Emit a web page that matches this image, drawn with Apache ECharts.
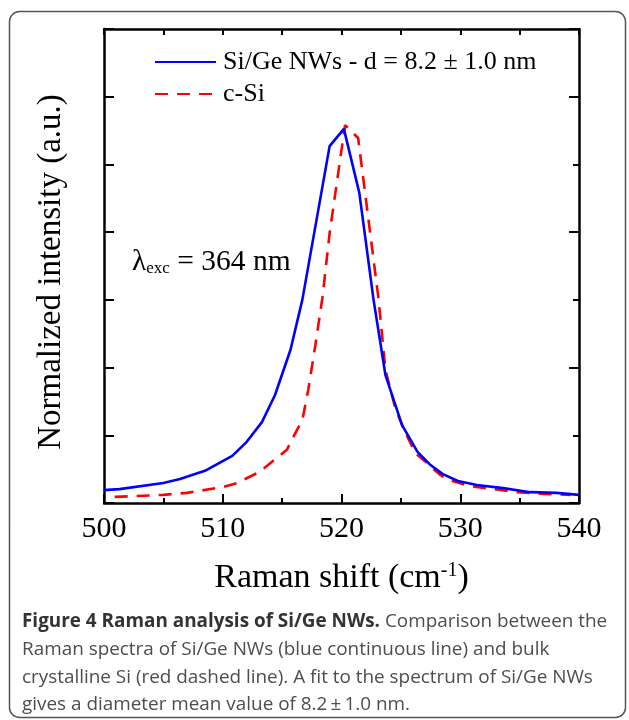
<!DOCTYPE html>
<html>
<head>
<meta charset="utf-8">
<script src="https://cdn.jsdelivr.net/npm/echarts@6/dist/echarts.min.js"></script>
<style>
  html, body { margin: 0; padding: 0; background: #fff; }
  #chart { width: 629px; height: 720px; }
</style>
</head>
<body>
<div id="chart"></div>
<script>
// Si/Ge NWs (blue, solid)
var nwShift = [500.0, 501.3, 505.0, 506.4, 508.5, 510.8, 512.0, 513.3, 514.4, 515.7, 516.7, 519.0, 520.2, 521.5, 522.7, 523.7, 524.4, 525.1, 526.4, 527.5, 528.5, 529.8, 531.4, 533.6, 535.9, 538.1, 540.0];
var nwInt   = [0.038, 0.041, 0.059, 0.071, 0.095, 0.139, 0.180, 0.239, 0.319, 0.452, 0.600, 1.054, 1.105, 0.916, 0.600, 0.378, 0.304, 0.230, 0.151, 0.112, 0.086, 0.065, 0.053, 0.044, 0.032, 0.030, 0.024];
// c-Si (red, dashed)
var siShift = [500.9, 505.0, 507.0, 510.0, 511.2, 513.1, 515.4, 515.8, 516.7, 517.2, 517.8, 518.4, 519.0, 519.6, 520.3, 521.4, 523.1, 523.7, 524.5, 525.2, 526.2, 527.2, 528.3, 529.1, 530.8, 532.8, 534.8, 537.0, 539.3];
var siInt   = [0.018, 0.024, 0.030, 0.047, 0.059, 0.092, 0.157, 0.186, 0.245, 0.334, 0.467, 0.608, 0.797, 0.945, 1.116, 1.078, 0.608, 0.393, 0.284, 0.222, 0.148, 0.118, 0.083, 0.068, 0.050, 0.041, 0.032, 0.027, 0.024];

var seriesNames = ['Si/Ge NWs - d = 8.2 \u00b1 1.0 nm', 'c-Si'];

function pairs(xs, ys) {
  return xs.map(function (x, i) { return [x, ys[i]]; });
}

var serif = 'Liberation Serif';
var chart = echarts.init(document.getElementById('chart'));

var option = {
  animation: false,
  grid: { left: 104, top: 29, right: 50, bottom: 217 },
  legend: {
    orient: 'vertical',
    left: 149,
    top: 44,
    itemWidth: 61,
    itemHeight: 14,
    itemGap: 6,
    itemStyle: { opacity: 0 },
    textStyle: { fontFamily: serif, fontSize: 26, color: '#000', padding: [0, 0, 0, 2] },
    data: seriesNames
  },
  xAxis: [{
    type: 'value',
    min: 500, max: 540, interval: 10,
    axisLine: { show: true, onZero: false, lineStyle: { color: '#000', width: 2.5 } },
    axisTick: { inside: true, length: 9, lineStyle: { color: '#000', width: 2 } },
    minorTick: { show: true, splitNumber: 2, length: 5, lineStyle: { color: '#000', width: 2 } },
    splitLine: { show: false },
    axisLabel: { fontFamily: serif, fontSize: 30, color: '#000', margin: 11 },
    name: 'Raman shift (cm{sup|-1})',
    nameLocation: 'middle',
    nameGap: 58,
    nameTextStyle: {
      fontFamily: serif, fontSize: 34, color: '#000',
      rich: { sup: { fontFamily: serif, fontSize: 20, color: '#000', verticalAlign: 'top', padding: [0, 0, 15, 0] } }
    }
  }, {
    type: 'value',
    position: 'top',
    min: 500, max: 540, interval: 10,
    axisLine: { show: true, onZero: false, lineStyle: { color: '#000', width: 2.5 } },
    axisTick: { inside: true, length: 6, lineStyle: { color: '#000', width: 2 } },
    minorTick: { show: true, splitNumber: 2, length: 6, lineStyle: { color: '#000', width: 2 } },
    splitLine: { show: false },
    axisLabel: { show: false }
  }],
  yAxis: [{
    type: 'value',
    min: 0, max: 1.4, interval: 0.2,
    axisLine: { show: true, onZero: false, lineStyle: { color: '#000', width: 2.5 } },
    axisTick: { inside: true, length: 10, lineStyle: { color: '#000', width: 2 } },
    splitLine: { show: false },
    axisLabel: { show: false },
    name: 'Normalized intensity (a.u.)',
    nameLocation: 'middle',
    nameGap: 36,
    nameTextStyle: { fontFamily: serif, fontSize: 33, color: '#000', padding: [0, 12, 0, 0] }
  }, {
    type: 'value',
    position: 'right',
    min: 0, max: 1.4, interval: 0.4,
    axisLine: { show: true, onZero: false, lineStyle: { color: '#000', width: 2.5 } },
    axisTick: { inside: true, length: 10, lineStyle: { color: '#000', width: 2 } },
    minorTick: { show: true, splitNumber: 2, length: 6, lineStyle: { color: '#000', width: 2 } },
    splitLine: { show: false },
    axisLabel: { show: false }
  }],
  series: [{
    name: seriesNames[0],
    type: 'line',
    symbol: 'none',
    color: '#0000ff',
    lineStyle: { color: '#0000ff', width: 2.6 },
    data: pairs(nwShift, nwInt),
    z: 3
  }, {
    name: seriesNames[1],
    type: 'line',
    symbol: 'none',
    color: '#ff0000',
    lineStyle: { color: '#ff0000', width: 2.6, type: [13, 9] },
    data: pairs(siShift, siInt),
    z: 2
  }],
  graphic: [{
    type: 'rect',
    shape: { x: 9.5, y: 11.5, width: 616, height: 706, r: 10 },
    style: { fill: 'none', stroke: '#555', lineWidth: 1.5 },
    silent: true
  }, {
    type: 'text',
    left: 132,
    top: 247,
    style: {
      text: '\u03bb{sub|exc} = 364 nm',
      fontFamily: serif,
      fontSize: 29.5,
      fill: '#000',
      rich: { sub: { fontFamily: serif, fontSize: 17, fill: '#000', verticalAlign: 'bottom', padding: [14, 0, 0, 0] } }
    }
  }, {
    type: 'text',
    left: 22,
    top: 608,
    style: {
      text: '{b|Figure 4 Raman analysis of Si/Ge NWs.} Comparison between the\n' +
            'Raman spectra of Si/Ge NWs (blue continuous line) and bulk\n' +
            'crystalline Si (red dashed line). A fit to the spectrum of Si/Ge NWs\n' +
            'gives a diameter mean value of 8.2\u2009\u00b1\u20091.0 nm.',
      fontFamily: 'Open Sans',
      fontSize: 18.9,
      lineHeight: 27.7,
      fill: '#4d4d4d',
      rich: { b: { fontFamily: 'Open Sans', fontSize: 18.9, fontWeight: 'bold', fill: '#333', lineHeight: 27.7 } }
    }
  }]
};

chart.setOption(option);
</script>
</body>
</html>
